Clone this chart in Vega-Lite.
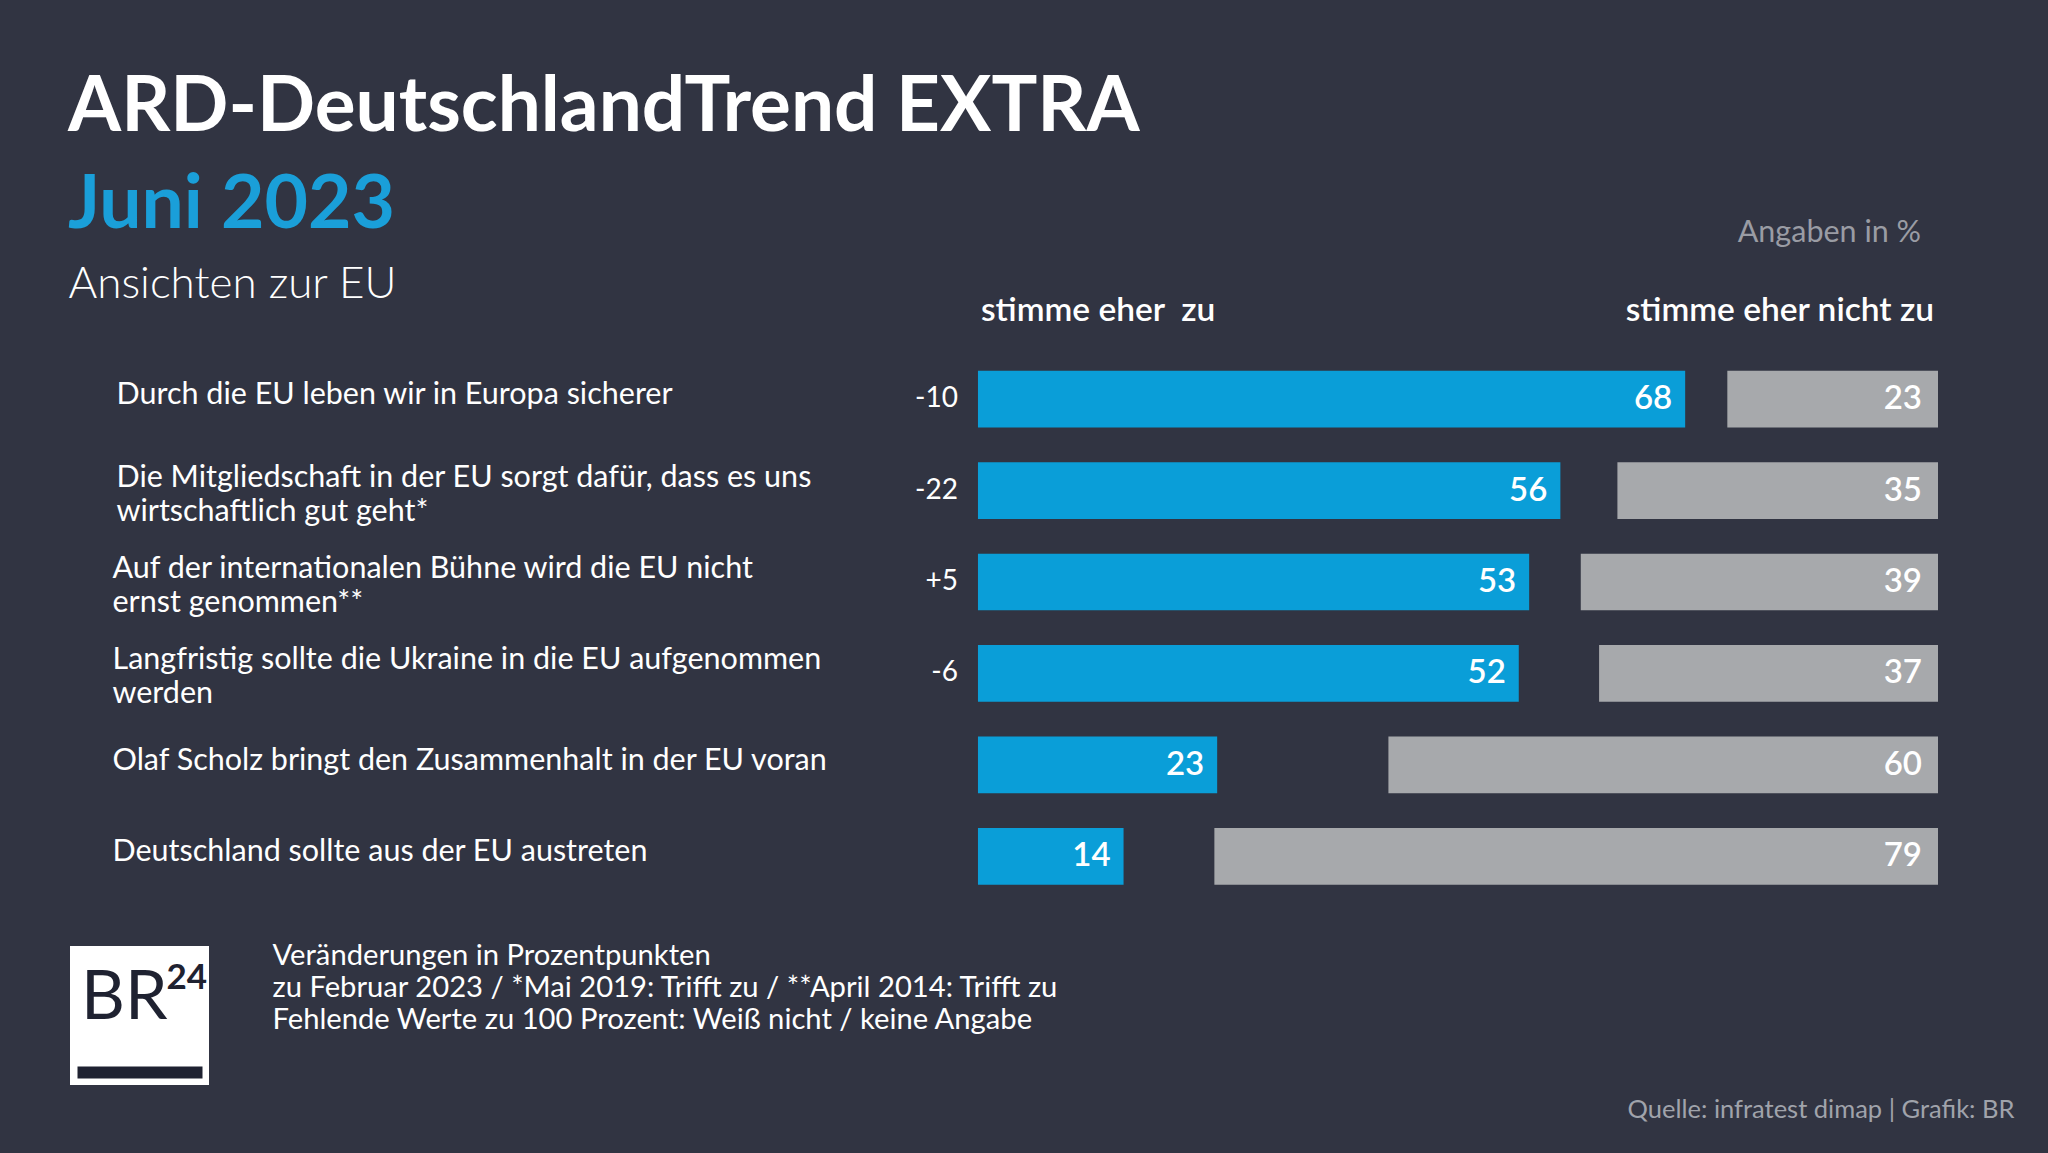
{
  "$schema": "https://vega.github.io/schema/vega-lite/v6.json",
  "background": "#313442",
  "padding": {"left": 68, "top": 70, "right": 34, "bottom": 30},
  "title": {
    "text": "ARD-DeutschlandTrend EXTRA",
    "subtitle": "Juni 2023",
    "anchor": "start",
    "frame": "bounds",
    "offset": -26,
    "font": "Lato",
    "fontSize": 76.5,
    "fontWeight": "bold",
    "color": "white",
    "subtitleFont": "Lato",
    "subtitleFontSize": 75,
    "subtitleFontWeight": "bold",
    "subtitleColor": "#1a9fd9",
    "subtitlePadding": 21
  },
  "config": {"view": {"stroke": null}, "font": "Lato"},
  "spacing": 32,
  "vconcat": [
    {
      "width": 1861,
      "height": 640,
      "data": {
        "values": [
          {"s": "Durch die EU leben wir in Europa sicherer", "zu": 68, "nicht": 23, "chg": "-10"},
          {"s": "Die Mitgliedschaft in der EU sorgt dafür, dass es uns|wirtschaftlich gut geht*", "zu": 56, "nicht": 35, "chg": "-22"},
          {"s": "Auf der internationalen Bühne wird die EU nicht|ernst genommen**", "zu": 53, "nicht": 39, "chg": "+5"},
          {"s": "Langfristig sollte die Ukraine in die EU aufgenommen|werden", "zu": 52, "nicht": 37, "chg": "-6"},
          {"s": "Olaf Scholz bringt den Zusammenhalt in der EU voran", "zu": 23, "nicht": 60, "chg": ""},
          {"s": "Deutschland sollte aus der EU austreten", "zu": 14, "nicht": 79, "chg": ""}
        ]
      },
      "encoding": {
        "y": {
          "field": "s",
          "type": "nominal",
          "scale": {
            "domain": [" ", "Durch die EU leben wir in Europa sicherer", "Die Mitgliedschaft in der EU sorgt dafür, dass es uns|wirtschaftlich gut geht*", "Auf der internationalen Bühne wird die EU nicht|ernst genommen**", "Langfristig sollte die Ukraine in die EU aufgenommen|werden", "Olaf Scholz bringt den Zusammenhalt in der EU voran", "Deutschland sollte aus der EU austreten"],
            "paddingInner": 0.38,
            "paddingOuter": 0.19
          },
          "axis": {
            "title": "Ansichten zur EU",
            "titleAngle": 0,
            "titleAlign": "left",
            "titleBaseline": "alphabetic",
            "titleX": -9,
            "titleY": 35,
            "titleFont": "Lato",
            "titleFontWeight": 300,
            "titleFontSize": 44,
            "titleColor": "white",
            "labelExpr": "split(datum.label, '|')",
            "labelAlign": "left",
            "labelBaseline": "middle",
            "labelPadding": {"condition": {"test": "indexof(datum.label, 'Durch') == 0 || indexof(datum.label, 'Die M') == 0", "value": -39}, "value": -35},
            "labelOffset": {"condition": {"test": "indexof(datum.label, '|') >= 0", "value": -13}, "value": -4},
            "labelFont": "Lato",
            "labelFontSize": 30.5,
            "labelLineHeight": 34,
            "labelColor": "white",
            "labelLimit": 820,
            "ticks": false,
            "tickSize": 0,
            "domain": false,
            "grid": false
          }
        }
      },
      "layer": [
        {
          "layer": [
            {
              "mark": {"type": "bar", "color": "#0a9ed8"},
              "encoding": {"x": {"field": "zu", "type": "quantitative", "scale": {"domain": [-86.63, 92.31], "nice": false}, "axis": null}}
            },
            {
              "mark": {"type": "text", "align": "right", "baseline": "middle", "dx": -13, "color": "white", "fontSize": 33, "fontWeight": 600},
              "encoding": {"x": {"field": "zu", "type": "quantitative"}, "text": {"field": "zu", "type": "quantitative"}}
            },
            {
              "mark": {"type": "text", "align": "right", "baseline": "middle", "dx": -20, "color": "white", "fontSize": 28},
              "encoding": {"x": {"datum": 0}, "text": {"field": "chg"}}
            },
            {
              "data": {"values": [{"h": "stimme eher\u00a0\u00a0zu"}]},
              "mark": {"type": "text", "align": "left", "baseline": "middle", "dx": 3, "dy": 3, "color": "white", "fontSize": 33.5, "fontWeight": 600},
              "encoding": {"x": {"datum": 0}, "y": {"datum": " "}, "text": {"field": "h"}}
            }
          ]
        },
        {
          "layer": [
            {
              "mark": {"type": "bar", "color": "#a7a9ac"},
              "encoding": {"x": {"field": "nicht", "type": "quantitative", "scale": {"domain": [0, 203.17], "reverse": true, "nice": false}, "axis": null}}
            },
            {
              "mark": {"type": "text", "align": "right", "baseline": "middle", "dx": -16, "color": "white", "fontSize": 33, "fontWeight": 600},
              "encoding": {"x": {"datum": 0}, "text": {"field": "nicht", "type": "quantitative"}}
            },
            {
              "data": {"values": [{"h": "stimme eher nicht zu"}]},
              "mark": {"type": "text", "align": "right", "baseline": "middle", "dx": -4, "dy": 3, "color": "white", "fontSize": 33.5, "fontWeight": 600},
              "encoding": {"x": {"datum": 0}, "y": {"datum": " "}, "text": {"field": "h"}}
            },
            {
              "data": {"values": [{"h": "Angaben in %"}]},
              "mark": {"type": "text", "align": "right", "baseline": "middle", "dx": -17, "dy": -75, "color": "#9a9ca4", "fontSize": 30.5},
              "encoding": {"x": {"datum": 0}, "y": {"datum": " "}, "text": {"field": "h"}}
            }
          ]
        }
      ],
      "resolve": {"scale": {"x": "independent"}}
    },
    {
      "width": 125,
      "height": 125,
      "view": {"fill": "white", "stroke": "white", "strokeWidth": 14},
      "data": {"values": [{"k": "BR"}]},
      "encoding": {
        "x": {
          "field": "k",
          "type": "nominal",
          "axis": {
            "title": "Quelle: infratest dimap | Grafik: BR",
            "labels": false,
            "ticks": false,
            "domain": true,
            "domainColor": "#1f2231",
            "domainWidth": 12,
            "domainCap": "butt",
            "offset": -6,
            "titleX": 1937,
            "titleY": 45,
            "titleAlign": "right",
            "titleBaseline": "alphabetic",
            "titleColor": "#a0a3ab",
            "titleFontSize": 25.5,
            "titleFontWeight": "normal",
            "titleFont": "Lato"
          }
        },
        "y": {
          "field": "k",
          "type": "nominal",
          "axis": {
            "orient": "right",
            "title": ["Veränderungen in Prozentpunkten", "zu Februar 2023 / *Mai 2019: Trifft zu / **April 2014: Trifft zu", "Fehlende Werte zu 100 Prozent: Weiß nicht / keine Angabe"],
            "labels": false,
            "ticks": false,
            "domain": false,
            "grid": false,
            "titleAngle": 0,
            "titleAlign": "left",
            "titleBaseline": "alphabetic",
            "titleX": 70,
            "titleY": 11.5,
            "titleColor": "white",
            "titleFontSize": 29.2,
            "titleFontWeight": "normal",
            "titleLineHeight": 32,
            "titleFont": "Lato"
          }
        }
      },
      "layer": [
        {"mark": {"type": "text", "text": "BR", "align": "left", "baseline": "alphabetic", "dx": -58.5, "dy": 3.5, "fontSize": 68, "color": "#1f2231"}},
        {"mark": {"type": "text", "text": "24", "align": "left", "baseline": "alphabetic", "dx": 27, "dy": -26.5, "fontSize": 35, "fontWeight": "bold", "color": "#1f2231"}}
      ]
    }
  ]
}
